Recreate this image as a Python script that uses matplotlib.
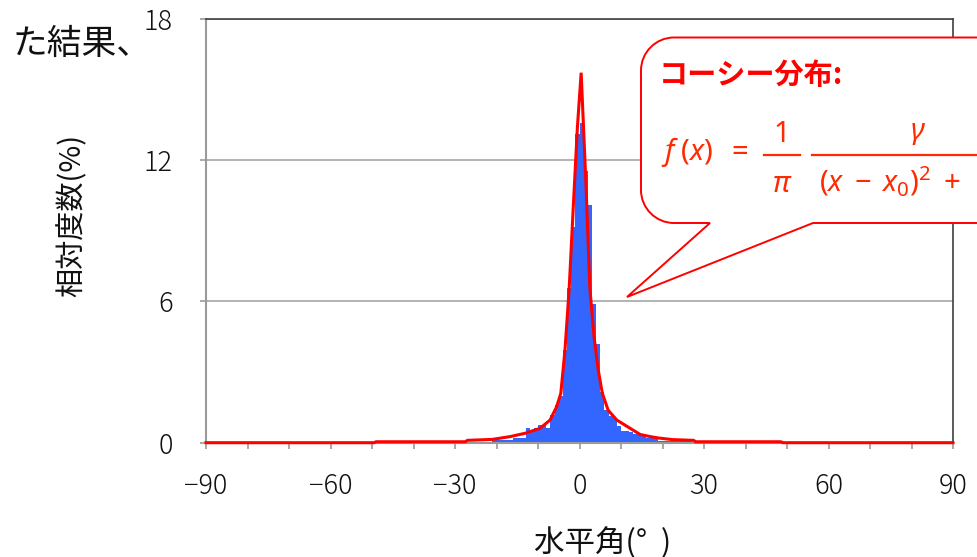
import matplotlib
matplotlib.use("Agg")
import matplotlib.pyplot as plt
from matplotlib.path import Path
from matplotlib.patches import PathPatch
from matplotlib.lines import Line2D
from matplotlib.transforms import Affine2D

# ---------------- data ----------------
bin_start = list(range(-27, 27))  # 1-degree bins [k, k+1]
hist_pct = [0.04, 0.04, 0.04, 0.04, 0.05, 0.05, 0.10, 0.10, 0.12, 0.12,
            0.12, 0.18, 0.20, 0.20, 0.64, 0.50, 0.61, 0.73, 0.73, 0.64,
            1.17, 1.60, 2.00, 3.93, 6.55, 9.15, 13.10, 13.56, 11.55, 10.10,
            5.90, 4.20, 2.16, 1.38, 1.12, 1.05, 0.70, 0.50, 0.50, 0.45,
            0.38, 0.36, 0.30, 0.20, 0.20, 0.18, 0.08, 0.08, 0.08, 0.07,
            0.07, 0.07, 0.07, 0.06]

curve_x = [-90, -49.5, -49, -27.5, -27, -21, -16.7, -13.1, -9.5, -7.1, -5.5,
           -4.5, -3.5, -2.5, -1.5, -0.5, 0.4, 1.5, 2.5, 3.5, 4.5, 5.5, 6.9,
           9, 12.2, 14.6, 17, 19, 22.5, 27.5, 28, 48.5, 49, 90]
curve_y = [0, 0, 0.04, 0.04, 0.10, 0.14, 0.26, 0.40, 0.61, 0.96, 1.53,
           2.10, 3.93, 6.50, 10.0, 13.4, 15.7, 11.2, 6.55, 4.50, 3.10, 2.10, 1.38,
           0.96, 0.61, 0.35, 0.26, 0.20, 0.13, 0.10, 0.04, 0.04, 0, 0]

x_ticks = [-90, -60, -30, 0, 30, 60, 90]
x_ticklabels = ["−90", "−60", "−30", "0", "30", "60", "90"]
y_ticks = [0, 6, 12, 18]
y_ticklabels = ["0", "6", "12", "18"]

xlabel = "水平角(°  )"
ylabel = "相対度数(%)"
side_text = "た結果、"
callout_title = "コーシー分布:"
f_lhs = r"$f\;(x)\;\;=$"
f_num1, f_den1 = "1", r"$\pi$"
f_num2, f_den2 = r"$\gamma$", r"$(x\;-\;x_0)^2\;+\;\;\;\gamma^2$"

# ---------------- style ----------------
W, H = 977, 557
FONT = ["Noto Sans CJK JP", "DejaVu Sans"]
plt.rcParams["font.family"] = FONT
plt.rcParams["mathtext.fontset"] = "custom"
plt.rcParams["mathtext.rm"] = "Noto Sans"
plt.rcParams["mathtext.it"] = "Noto Sans:italic"
plt.rcParams["mathtext.bf"] = "Noto Sans:bold"

fig = plt.figure(figsize=(W / 100, H / 100), dpi=100)
fig.patch.set_facecolor("white")
px2fig = Affine2D().scale(1 / W, -1 / H).translate(0, 1) + fig.transFigure

ax_l, ax_r, ax_t, ax_b = 206, 953, 18.5, 442.7
ax = fig.add_axes([ax_l / W, 1 - ax_b / H, (ax_r - ax_l) / W, (ax_b - ax_t) / H])

ax.bar(bin_start, hist_pct, width=1.0, align="edge", color="#3366ff",
       linewidth=0, zorder=2)
ax.plot(curve_x, curve_y, color="#ff0000", lw=2.2, zorder=3,
        solid_joinstyle="miter", clip_on=False)

ax.set_xlim(-90, 90)
ax.set_ylim(0, 18)
ax.set_xticks(x_ticks)
ax.set_xticklabels(x_ticklabels)
ax.set_xticks(list(range(-90, 91, 10)), minor=True)
ax.set_yticks(y_ticks)
ax.set_yticklabels(y_ticklabels)

ax.yaxis.grid(True, color="#a6a6a6", lw=1.2)
ax.set_axisbelow(True)

for s in ("left", "bottom"):
    ax.spines[s].set_color("#9a9a9a")
    ax.spines[s].set_linewidth(1.5)
for s in ("top", "right"):
    ax.spines[s].set_color("#404040")
    ax.spines[s].set_linewidth(1.2)

ax.tick_params(axis="both", which="both", direction="out", length=4,
               width=1.2, color="#9a9a9a", labelsize=19.5, labelcolor="#111111")
ax.tick_params(axis="y", pad=20)
ax.tick_params(axis="x", pad=17)
for lab in ax.get_xticklabels() + ax.get_yticklabels():
    lab.set_fontweight("light")

# axis titles
fig.text(603 / W, 1 - 543 / H, xlabel, ha="center", va="center",
         fontsize=22, color="#111111")
fig.text(72 / W, 1 - 215 / H, ylabel, ha="center", va="center",
         rotation=90, fontsize=21, color="#111111")

# slide text fragment
fig.text(13 / W, 1 - 44 / H, side_text, ha="left", va="center",
         fontsize=25, color="#111111")

# ---------------- callout ----------------
L, T, R, B, r = 641, 37.5, 1010, 223, 33
k = 0.5523 * r
tip = (627, 297)
verts = [
    (L + r, T), (R, T), (R, B), (813, B), tip, (710, B), (L + r, B),
    (L + r - k, B), (L, B - r + k), (L, B - r),
    (L, T + r),
    (L, T + r - k), (L + r - k, T), (L + r, T),
    (L + r, T),
]
codes = [Path.MOVETO, Path.LINETO, Path.LINETO, Path.LINETO, Path.LINETO,
         Path.LINETO, Path.LINETO,
         Path.CURVE4, Path.CURVE4, Path.CURVE4,
         Path.LINETO,
         Path.CURVE4, Path.CURVE4, Path.CURVE4,
         Path.CLOSEPOLY]
callout = PathPatch(Path(verts, codes), facecolor="white", edgecolor="#ff0000",
                    lw=1.4, transform=px2fig, zorder=5)
fig.add_artist(callout)

fig.text(659 / W, 1 - 75 / H, callout_title, ha="left", va="center",
         fontsize=21, fontweight="bold", color="#ff0000", zorder=6)

FC = "#ff2a00"
FS = 21
fig.text(661 / W, 1 - 152 / H, f_lhs, ha="left", va="center",
         fontsize=FS, color=FC, zorder=6)
fig.text(782 / W, 1 - 134 / H, f_num1, ha="center", va="center",
         fontsize=FS, color=FC, zorder=6, family="Noto Sans")
fig.text(782 / W, 1 - 184 / H, f_den1, ha="center", va="center",
         fontsize=FS, color=FC, zorder=6)
fig.text(918 / W, 1 - 132 / H, f_num2, ha="center", va="center",
         fontsize=FS, color=FC, zorder=6)
fig.text(819 / W, 1 - 182 / H, f_den2, ha="left", va="center",
         fontsize=FS, color=FC, zorder=6)
fig.add_artist(Line2D([764, 800], [155, 155], color=FC, lw=1.6,
                      transform=px2fig, zorder=6))
fig.add_artist(Line2D([812, 1030], [155, 155], color=FC, lw=1.6,
                      transform=px2fig, zorder=6))

fig.savefig("out.png", dpi=100)
